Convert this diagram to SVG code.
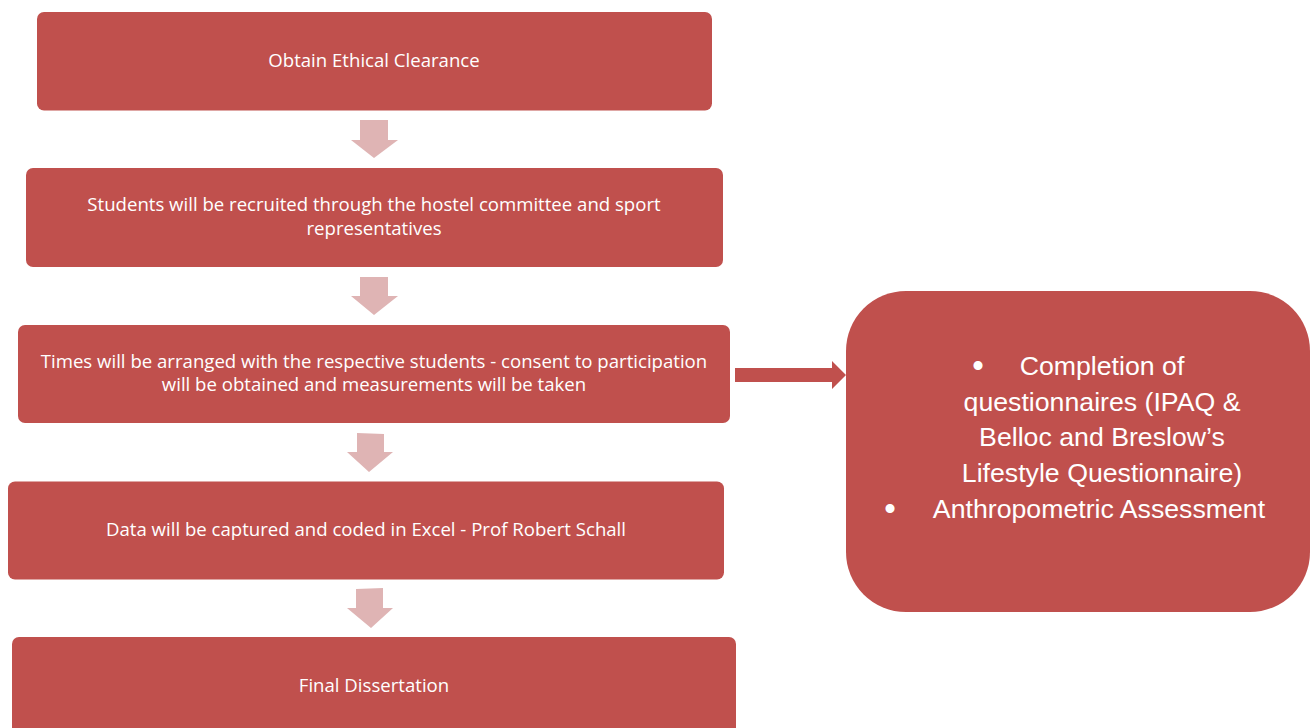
<svg xmlns="http://www.w3.org/2000/svg" width="1314" height="728" viewBox="0 0 1314 728">
  <style>
    .box { fill: #C0504D; }
    .step { font-family: "Open Sans", "Liberation Sans", sans-serif; font-size: 18.6px; fill: #FFFFFF; text-anchor: middle; }
    .big { font-family: "Liberation Sans", Arial, sans-serif; font-size: 26.7px; fill: #FFFFFF; text-anchor: middle; }
    .bullet { font-family: "Liberation Sans", Arial, sans-serif; font-size: 33px; fill: #FFFFFF; text-anchor: middle; }
    .down { fill: #DFB4B4; }
    .side { fill: #C0504D; }
  </style>
  <rect width="1314" height="728" fill="#FFFFFF"/>

  <!-- connectors -->
  <g id="connectors">
    <polygon class="down" points="360,120 388,120 388,140 398,140 374,158 351,140 360,140"/>
    <polygon class="down" points="360,277 388,277 388,296 398,296 374,315 351,296 360,296"/>
    <polygon class="down" points="357,433 384,434 384,452 393,452 369,472 347,452 357,452"/>
    <polygon class="down" points="356,589 383,588 383,608 393,608 371,628 347,608 356,608"/>
    <polygon class="side" points="735,368 832,368 832,361 846,375 832,389 832,382 735,382"/>
  </g>

  <g id="step1">
    <rect class="box" x="37" y="12" width="675" height="98.5" rx="7"/>
    <text class="step" x="374" y="67">Obtain Ethical Clearance</text>
  </g>

  <g id="step2">
    <rect class="box" x="26" y="168" width="697" height="99" rx="7"/>
    <text class="step" x="374" y="211">Students will be recruited through the hostel committee and sport</text>
    <text class="step" x="374" y="235">representatives</text>
  </g>

  <g id="step3">
    <rect class="box" x="18" y="325" width="712" height="98" rx="7"/>
    <text class="step" x="374" y="368">Times will be arranged with the respective students - consent to participation</text>
    <text class="step" x="374" y="391">will be obtained and measurements will be taken</text>
  </g>

  <g id="step4">
    <rect class="box" x="8" y="481.5" width="716" height="98" rx="7"/>
    <text class="step" x="366" y="536">Data will be captured and coded in Excel - Prof Robert Schall</text>
  </g>

  <g id="step5">
    <rect class="box" x="12" y="637" width="724" height="110" rx="7"/>
    <text class="step" x="374" y="692">Final Dissertation</text>
  </g>

  <g id="activities">
    <rect class="box" x="846" y="291" width="464" height="321" rx="60"/>
    <text class="bullet" x="978" y="377">•</text>
    <text class="big" x="1102" y="375">Completion of</text>
    <text class="big" x="1102" y="411">questionnaires (IPAQ &amp;</text>
    <text class="big" x="1102" y="446">Belloc and Breslow’s</text>
    <text class="big" x="1102" y="482">Lifestyle Questionnaire)</text>
    <text class="bullet" x="890" y="520">•</text>
    <text class="big" x="1099" y="518">Anthropometric Assessment</text>
  </g>
</svg>
